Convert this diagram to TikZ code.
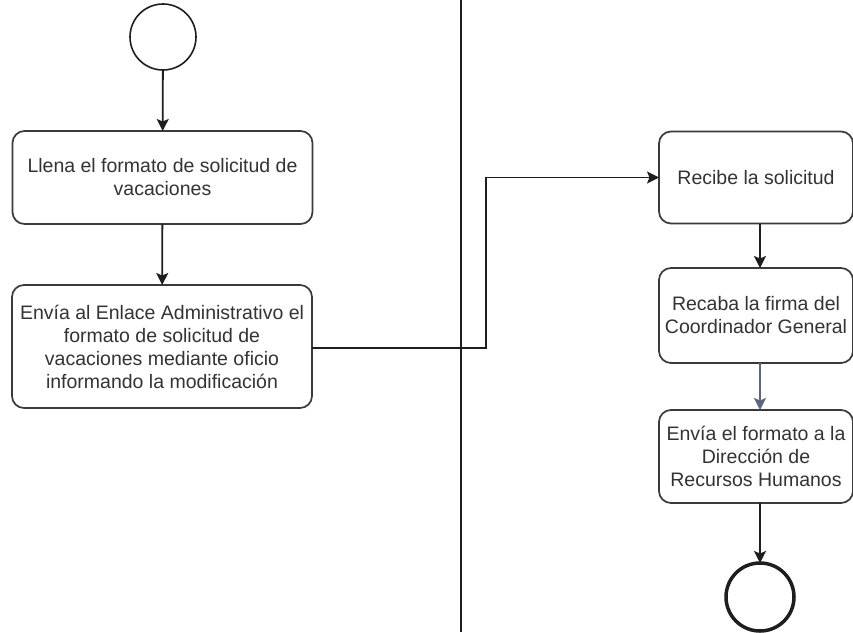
\documentclass[tikz,border=0pt]{standalone}
\usepackage{fontspec}
\setmainfont{Liberation Sans}
\usetikzlibrary{arrows.meta}
\definecolor{ink}{HTML}{1E1E1E}
\definecolor{boxline}{HTML}{3A3A3A}
\definecolor{txt}{HTML}{333333}
\definecolor{slate}{HTML}{5A6684}
\begin{document}
\begin{tikzpicture}[x=1pt,y=-1pt,
  every node/.style={inner sep=0pt,outer sep=0pt},
  task/.style={draw=boxline,line width=1.7pt,rounded corners=12pt,align=center,
    text=txt,font=\fontsize{19.5}{23}\selectfont},
  event/.style={draw=ink,circle,line width=1.6pt},
  tip/.tip={Stealth[length=12pt,width=12pt,inset=2.5pt]},
  flow/.style={draw=ink,line width=1.8pt,-tip}]
\useasboundingbox (0,0) rectangle (853,632);
\fill[white] (0,0) rectangle (853,632);

% lane divider
\draw[ink,line width=1.7pt] (461,0) -- (461,632);

% left lane
\node[event,minimum size=66pt] (start) at (163,37) {};
\node[task,minimum width=300pt,minimum height=93pt] (llena) at (162.5,177.5)
  {Llena el formato de solicitud de\\vacaciones};
\node[task,minimum width=300pt,minimum height=123pt] (envia) at (162,346.5)
  {Envía al Enlace Administrativo el\\formato de solicitud de\\vacaciones mediante oficio\\informando la modificación};

% right lane
\node[task,minimum width=194pt,minimum height=92pt] (recibe) at (756,177.5)
  {Recibe la solicitud};
\node[task,minimum width=194pt,minimum height=95pt] (recaba) at (756,315.5)
  {Recaba la firma del\\Coordinador General};
\node[task,minimum width=194pt,minimum height=93pt] (enviaf) at (756,456.5)
  {Envía el formato a la\\Dirección de\\Recursos Humanos};
\node[event,line width=3.5pt,minimum size=68pt] (fin) at (760,597) {};

% connectors
\draw[flow] (start) -- (llena);
\draw[flow] (llena) -- (envia);
\coordinate (jog) at (486,348);
\draw[flow,line width=1.6pt] (envia.east |- jog) -- (jog) |- (recibe.west);
\draw[flow] ([xshift=4pt]recibe.south) -- ([xshift=4pt]recaba.north);
\draw[flow,draw=slate,fill=slate] ([xshift=4pt]recaba.south) -- ([xshift=4pt]enviaf.north);
\draw[flow] ([xshift=4pt]enviaf.south) -- (fin.north);
\end{tikzpicture}
\end{document}
